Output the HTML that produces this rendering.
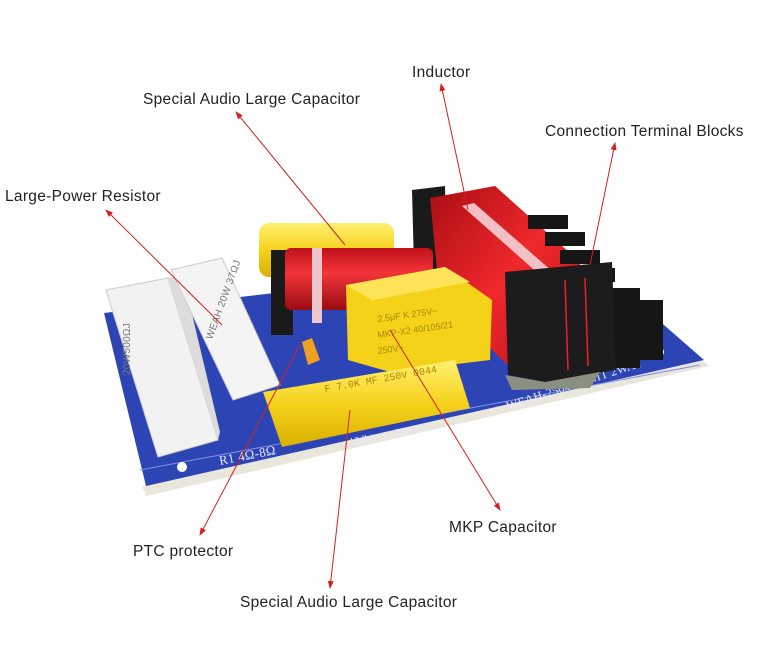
<!DOCTYPE html>
<html><head><meta charset="utf-8"><style>
html,body{margin:0;padding:0;background:#fff;}
svg{display:block}
text{font-family:"Liberation Sans",sans-serif;font-size:15.5px;fill:#222;letter-spacing:0.3px}
</style></head><body>
<svg width="766" height="647" viewBox="0 0 766 647" xmlns="http://www.w3.org/2000/svg">
<defs>
<marker id="ah" markerWidth="8" markerHeight="8" refX="7" refY="4" orient="auto" markerUnits="userSpaceOnUse">
<path d="M0,1 L8,4 L0,7 Z" fill="#d42020"/></marker>
<linearGradient id="red" x1="0" y1="0" x2="1" y2="1"><stop offset="0" stop-color="#a80e14"/><stop offset="0.5" stop-color="#f0282c"/><stop offset="1" stop-color="#b01018"/></linearGradient>
<linearGradient id="redv" x1="0" y1="0" x2="0" y2="1"><stop offset="0" stop-color="#c01018"/><stop offset="0.4" stop-color="#f2353a"/><stop offset="1" stop-color="#9a0c12"/></linearGradient>
<linearGradient id="yel" x1="0" y1="0" x2="0" y2="1"><stop offset="0" stop-color="#fff070"/><stop offset="0.5" stop-color="#f5d21c"/><stop offset="1" stop-color="#d9b000"/></linearGradient>
</defs>
<polygon points="104,313 656,318 709,366 146,496 142,486 704,358" fill="#e9e6dc"/>
<polygon points="104,313 300,290 656,318 704,360 146,486" fill="#2d45b4"/>
<polyline points="140,470 700,365" stroke="#7e90e0" stroke-width="1" fill="none"/>
<text x="220" y="465" style="font-family:'Liberation Serif',serif;fill:#e8ecff;font-size:13px" transform="rotate(-11 220 465)">R1  4Ω-8Ω</text>
<text x="350" y="445" style="font-family:'Liberation Serif',serif;fill:#e8ecff;font-size:10px" transform="rotate(-11 350 445)">12db/oct · 2800Hz</text>
<text x="508" y="410" style="font-family:'Liberation Serif',serif;fill:#e8ecff;font-size:12px" transform="rotate(-18 508 410)">WEAH-2504  2UNIT 2WAY</text>
<circle cx="182" cy="467" r="5" fill="#fff"/><circle cx="660" cy="352" r="4" fill="#fff"/>
<polygon points="106,290 168,278 218,440 158,457" fill="#f2f2f2" stroke="#ccc"/>
<polygon points="168,278 183,276 220,432 218,440" fill="#dcdcdc"/>
<polygon points="171,270 222,258 280,385 233,400" fill="#f4f4f4" stroke="#ccc"/>
<text x="0" y="0" style="font-size:10px;fill:#777" transform="translate(130,375) rotate(-90)">20W500ΩJ</text>
<text x="0" y="0" style="font-size:10px;fill:#777" transform="translate(212,340) rotate(-70)">WEAH 20W 37ΩJ</text>
<rect x="259" y="223" width="135" height="54" rx="10" fill="url(#yel)"/>
<polygon points="412,190 445,186 448,300 415,305" fill="#1a1a1a"/>
<polygon points="430,198 495,186 580,262 578,362 515,372 440,300" fill="url(#red)"/>
<polygon points="462,206 474,203 560,278 550,284" fill="#f4c0c4"/>
<g fill="#161616">
<rect x="528" y="215" width="40" height="14"/><rect x="545" y="232" width="40" height="14"/>
<rect x="560" y="250" width="40" height="14"/><rect x="575" y="268" width="40" height="14"/>
<rect x="600" y="288" width="40" height="80"/><rect x="628" y="300" width="35" height="60"/>
</g>
<polygon points="505,272 612,262 616,370 545,382 508,375" fill="#1c1c1c"/>
<line x1="565" y1="280" x2="568" y2="370" stroke="#e22" stroke-width="1.5"/>
<line x1="585" y1="278" x2="588" y2="366" stroke="#e22" stroke-width="1.5"/>
<polygon points="505,375 545,382 600,372 590,388 512,390" fill="#8a8f80"/>
<rect x="271" y="250" width="22" height="85" fill="#1a1a1a"/>
<rect x="285" y="248" width="148" height="62" rx="6" fill="url(#redv)"/>
<rect x="312" y="248" width="10" height="75" fill="#f0c6ca"/>
<polygon points="346,285 445,267 492,300 490,360 390,372 348,360" fill="#f5d21a"/>
<polygon points="346,285 445,267 470,282 372,300" fill="#ffe45a"/>
<text x="378" y="322" style="font-size:9px;fill:#a88800;letter-spacing:0" transform="rotate(-8 378 322)">2.5μF K 275V~</text>
<text x="378" y="338" style="font-size:9px;fill:#a88800;letter-spacing:0" transform="rotate(-8 378 338)">MKP-X2 40/105/21</text>
<text x="378" y="354" style="font-size:9px;fill:#a88800;letter-spacing:0" transform="rotate(-8 378 354)">250V~</text>
<polygon points="302,342 312,338 320,360 308,365" fill="#f0a020"/>
<polygon points="263,392 455,360 470,408 282,447" fill="url(#yel)"/>
<text x="325" y="392" style="font-family:'Liberation Mono',monospace;font-size:10px;fill:#a88800;letter-spacing:0" transform="rotate(-10 325 392)">F 7.0K MF 250V 0044</text>
<g stroke="#d42020" stroke-width="1" fill="none" marker-end="url(#ah)">
<line x1="468" y1="210" x2="441" y2="84"/>
<line x1="345" y1="245" x2="236" y2="112"/>
<line x1="590" y1="265" x2="615" y2="143"/>
<line x1="222" y1="325" x2="106" y2="210"/>
<line x1="390" y1="330" x2="500" y2="510"/>
<line x1="300" y1="345" x2="200" y2="535"/>
<line x1="350" y1="410" x2="330" y2="588"/>
</g>
<text x="412" y="77">Inductor</text>
<text x="143" y="104">Special Audio Large Capacitor</text>
<text x="545" y="136">Connection Terminal Blocks</text>
<text x="5" y="201">Large-Power Resistor</text>
<text x="449" y="532">MKP Capacitor</text>
<text x="133" y="556">PTC protector</text>
<text x="240" y="607">Special Audio Large Capacitor</text>
</svg>
</body></html>
